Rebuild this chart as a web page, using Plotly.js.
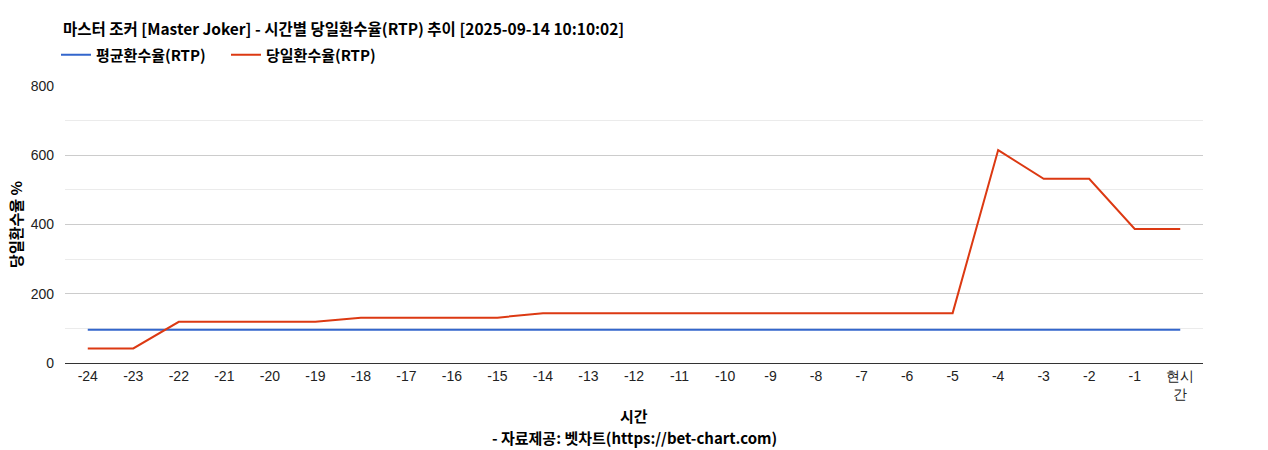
<!DOCTYPE html>
<html>
<head>
<meta charset="utf-8">
<script src="https://cdn.plot.ly/plotly-3.0.1.min.js"></script>
<style>html,body{margin:0;padding:0;background:#fff;}#chart{width:1268px;height:450px;}</style>
</head>
<body>
<div id="chart"></div>
<script>
const categories = ["-24","-23","-22","-21","-20","-19","-18","-17","-16","-15","-14","-13","-12","-11","-10","-9","-8","-7","-6","-5","-4","-3","-2","-1","현시간"];
const tickLabels = ["-24","-23","-22","-21","-20","-19","-18","-17","-16","-15","-14","-13","-12","-11","-10","-9","-8","-7","-6","-5","-4","-3","-2","-1","현시<br>간"];
const avgRTP = [96,96,96,96,96,96,96,96,96,96,96,96,96,96,96,96,96,96,96,96,96,96,96,96,96];
const dailyRTP = [42,42,119,119,119,119,131,131,131,131,144,144,144,144,144,144,144,144,144,144,615,532,532,387,387];
const seriesNames = ["평균환수율(RTP)","당일환수율(RTP)"];
const titleText = "마스터 조커 [Master Joker] - 시간별 당일환수율(RTP) 추이 [2025-09-14 10:10:02]";
const xTitle = "시간";
const sourceText = "- 자료제공: 벳차트(https://bet-chart.com)";
const yTitle = "당일환수율 %";

const font = "Noto Sans CJK KR, Liberation Sans, Arial, sans-serif";
const tickFont = "Liberation Sans, Arial, sans-serif";
const traces = [
  {x: categories, y: avgRTP, name: "<b>" + seriesNames[0] + "</b>", type: "scatter", mode: "lines",
   line: {color: "#3366cc", width: 2}, hoverinfo: "x+y"},
  {x: categories, y: dailyRTP, name: "<b>" + seriesNames[1] + "</b>", type: "scatter", mode: "lines",
   line: {color: "#dc3912", width: 2}, hoverinfo: "x+y"}
];
const layout = {
  width: 1268, height: 450,
  margin: {l: 65, r: 65, t: 86, b: 87},
  paper_bgcolor: "#fff", plot_bgcolor: "#fff",
  font: {family: font, size: 14, color: "#222"},
  title: {text: "<b>" + titleText + "</b>", x: 63 / 1268, xref: "container", xanchor: "left",
          y: 1 - 30 / 450, yref: "container", yanchor: "middle",
          font: {family: font, size: 15.5, color: "#000"}},
  showlegend: true,
  legend: {orientation: "h", x: 56 / 1268, xref: "container", xanchor: "left",
           y: 1 - 55 / 450, yref: "container", yanchor: "middle",
           font: {family: font, size: 15, color: "#000"}, itemwidth: 30, tracegroupgap: 0,
           entrywidth: 125, entrywidthmode: "pixels"},
  annotations: [
    {text: "<b>" + xTitle + "</b>", xref: "paper", x: 0.5, xanchor: "center",
     yref: "paper", y: (363 - 415) / 277, yanchor: "middle", showarrow: false,
     font: {family: font, size: 15, color: "#000"}},
    {text: "<b>" + sourceText + "</b>", xref: "paper", x: 0.5, xanchor: "center",
     yref: "paper", y: (363 - 437) / 277, yanchor: "middle", showarrow: false,
     font: {family: font, size: 15, color: "#000"}}
  ],
  xaxis: {
    type: "category", tickmode: "array", tickvals: categories, ticktext: tickLabels,
    range: [-0.5, categories.length - 0.5],
    showgrid: false, zeroline: false, showline: true, linecolor: "#333", linewidth: 1,
    ticks: "", tickfont: {family: tickFont, size: 14, color: "#222"},
    fixedrange: true
  },
  yaxis: {
    range: [0, 800], tickvals: [0, 200, 400, 600, 800],
    showgrid: true, gridcolor: "#cccccc", gridwidth: 1, zeroline: false, showline: false,
    ticks: "", ticklabelstandoff: 10,
    tickfont: {family: tickFont, size: 14, color: "#222"},
    minor: {tickvals: [100, 300, 500, 700], showgrid: true, gridcolor: "#ebebeb", gridwidth: 1, ticks: ""},
    title: {text: "<b>" + yTitle + "</b>", standoff: 4, font: {family: font, size: 15, color: "#000"}},
    fixedrange: true
  }
};
Plotly.newPlot("chart", traces, layout, {displayModeBar: false, staticPlot: true});
</script>
</body>
</html>
